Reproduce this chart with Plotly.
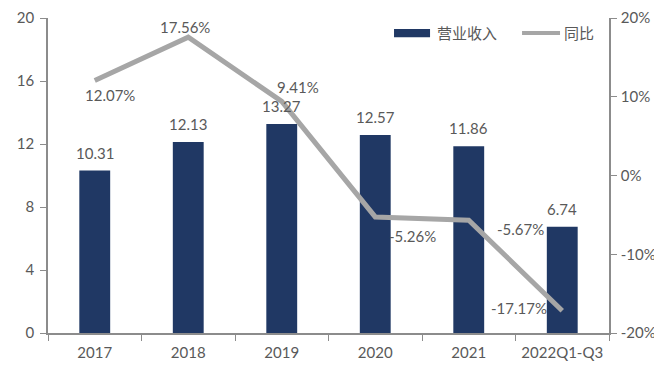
import plotly.graph_objects as go

categories = ["2017", "2018", "2019", "2020", "2021", "2022Q1-Q3"]
revenue = [10.31, 12.13, 13.27, 12.57, 11.86, 6.74]
growth = [12.07, 17.56, 9.41, -5.26, -5.67, -17.17]
left_ticks = [0, 4, 8, 12, 16, 20]
right_ticks = [-20, -10, 0, 10, 20]

# label offsets in pixels (style only)
growth_dx = [15, -3, 16, 37, 52, -43]
growth_dy = [-15, 10, 14, -19, -9, 3]

font_fam = "Lato, 'Noto Sans CJK SC', sans-serif"
grey_txt = "#595959"
axis_col = "#8c8c8c"
bar_col = "#203864"
line_col = "#A6A6A6"

fig = go.Figure()
fig.add_trace(go.Bar(
    x=categories, y=revenue, name="营业收入",
    marker=dict(color=bar_col, line=dict(width=0)),
    width=0.33, showlegend=False,
))
fig.add_trace(go.Scatter(
    x=categories, y=growth, name="同比", yaxis="y2", mode="lines",
    line=dict(color=line_col, width=5), showlegend=False, cliponaxis=False,
))

annotations = []
for i, v in enumerate(revenue):
    annotations.append(dict(x=i, y=v, xref="x", yref="y", text=f"{v:.2f}",
                            showarrow=False, yanchor="middle", yshift=18,
                            font=dict(size=15, color=grey_txt, family=font_fam)))
for i, (v, dx, dy) in enumerate(zip(growth, growth_dx, growth_dy)):
    annotations.append(dict(x=i, y=v, xref="x", yref="y2", text=f"{v:.2f}%",
                            showarrow=False, xanchor="center", yanchor="middle",
                            xshift=dx, yshift=dy,
                            font=dict(size=15, color=grey_txt, family=font_fam)))

# manual legend
annotations.append(dict(x=0.690, y=0.952, xref="paper", yref="paper", text="营业收入",
                        showarrow=False, xanchor="left", yanchor="middle",
                        font=dict(size=15, color=grey_txt, family=font_fam)))
annotations.append(dict(x=0.916, y=0.952, xref="paper", yref="paper", text="同比",
                        showarrow=False, xanchor="left", yanchor="middle",
                        font=dict(size=15, color=grey_txt, family=font_fam)))
shapes = [
    dict(type="rect", xref="paper", yref="paper", x0=0.6168, x1=0.681,
         y0=0.939, y1=0.965, fillcolor=bar_col, line=dict(width=0)),
    dict(type="line", xref="paper", yref="paper", x0=0.845, x1=0.9127,
         y0=0.952, y1=0.952, line=dict(color=line_col, width=4)),
]

fig.update_layout(
    width=654, height=375,
    margin=dict(l=40, r=53, t=10, b=50, autoexpand=False),
    plot_bgcolor="white", paper_bgcolor="white",
    font=dict(family=font_fam, size=15, color=grey_txt),
    showlegend=False,
    annotations=annotations, shapes=shapes,
    xaxis=dict(type="category", categoryorder="array", categoryarray=categories,
               range=[-0.5, len(categories) - 0.5],
               showline=True, linecolor=axis_col, linewidth=1.5, automargin=False,
               ticks="outside", tickson="boundaries", ticklen=6, tickcolor=axis_col,
               ticklabelstandoff=5,
               showgrid=False, tickfont=dict(size=15, color=grey_txt)),
    yaxis=dict(range=[0, 20], tickvals=left_ticks, showline=True, linecolor=axis_col,
               linewidth=1.5, ticks="outside", ticklen=6, tickcolor=axis_col, automargin=False,
               ticklabelstandoff=3,
               showgrid=False, zeroline=False, tickfont=dict(size=15, color=grey_txt)),
    yaxis2=dict(range=[-20, 20], tickvals=right_ticks, automargin=False,
                ticktext=[f"{t}%" for t in right_ticks], overlaying="y", side="right",
                showline=True, linecolor=axis_col, linewidth=1.5, ticks="outside",
                ticklen=6, tickcolor=axis_col, showgrid=False, zeroline=False,
                ticklabelstandoff=1,
                tickfont=dict(size=15, color=grey_txt)),
)

fig.write_html("out.html")
